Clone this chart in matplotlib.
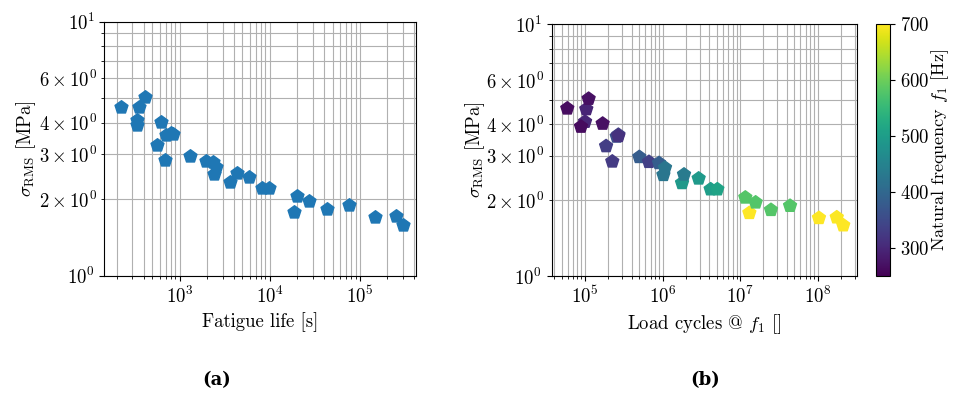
import matplotlib
matplotlib.use("Agg")
import matplotlib.pyplot as plt
import numpy as np
from matplotlib.colors import Normalize

plt.rcParams["font.family"] = "serif"
plt.rcParams["font.serif"] = ["cmr10"]
plt.rcParams["mathtext.fontset"] = "cm"
plt.rcParams["axes.formatter.use_mathtext"] = True
plt.rcParams["font.size"] = 13.5

# Fatigue test results
fatigue_life_s = [223, 351, 414, 336, 336, 630, 563, 685, 710, 808, 857,
                  1316, 1986, 2357, 2524, 2399, 3621, 4335, 5945, 8318, 9950,
                  20140, 18790, 27400, 43150, 75900, 148300, 252600, 304800]
sigma_rms_mpa = [4.63, 4.60, 5.06, 4.10, 3.92, 4.03, 3.28, 2.85, 3.58, 3.64, 3.60,
                 2.97, 2.84, 2.81, 2.69, 2.52, 2.34, 2.53, 2.44, 2.21, 2.21,
                 2.05, 1.78, 1.96, 1.83, 1.90, 1.70, 1.71, 1.59]
natural_freq_hz = [265, 296, 269, 298, 264, 268, 332, 328, 361, 333, 314,
                   381, 336, 382, 426, 427, 492, 436, 491, 501, 511,
                   579, 700, 578, 579, 580, 700, 697, 700]

life = np.array(fatigue_life_s, dtype=float)
sigma = np.array(sigma_rms_mpa, dtype=float)
f1 = np.array(natural_freq_hz, dtype=float)
load_cycles = life * f1

fig = plt.figure(figsize=(9.55, 3.94), dpi=100)
ax_a = fig.add_axes([0.1094, 0.3003, 0.3267, 0.6447])
ax_b = fig.add_axes([0.5777, 0.2995, 0.3200, 0.6388])
cax = fig.add_axes([0.9173, 0.2995, 0.0147, 0.6388])

norm = Normalize(vmin=250, vmax=700)

ax_a.scatter(life, sigma, marker="p", s=95, color="#1f77b4", zorder=3)
sc = ax_b.scatter(load_cycles, sigma, marker="p", s=95, c=f1, cmap="viridis",
                  norm=norm, zorder=3)

for ax in (ax_a, ax_b):
    ax.set_xscale("log")
    ax.set_yscale("log")
    ax.set_ylim(1, 10)
    ax.grid(True, which="both", color="#b0b0b0", linewidth=0.8)
    ax.set_axisbelow(True)
    ax.set_ylabel(r"$\sigma_{\mathrm{RMS}}$ [MPa]")
    ax.yaxis.set_label_coords(-0.213, 0.5)

ax_a.set_xlim(146.8, 4.27e5)
ax_b.set_xlim(3.72e4, 3.24e8)

ax_a.set_xlabel("Fatigue life [s]")
ax_b.set_xlabel(r"Load cycles @ $f_1$ []")

cb = fig.colorbar(sc, cax=cax, ticks=[300, 400, 500, 600, 700])
cb.set_label(r"Natural frequency $f_1$ [Hz]", fontsize=13, labelpad=0)

fig.text(0.227, 0.035, "(a)", fontsize=13, fontweight="bold",
         family="DejaVu Serif", ha="center", va="center")
fig.text(0.738, 0.035, "(b)", fontsize=13, fontweight="bold",
         family="DejaVu Serif", ha="center", va="center")

fig.savefig("out.png", dpi=100)
